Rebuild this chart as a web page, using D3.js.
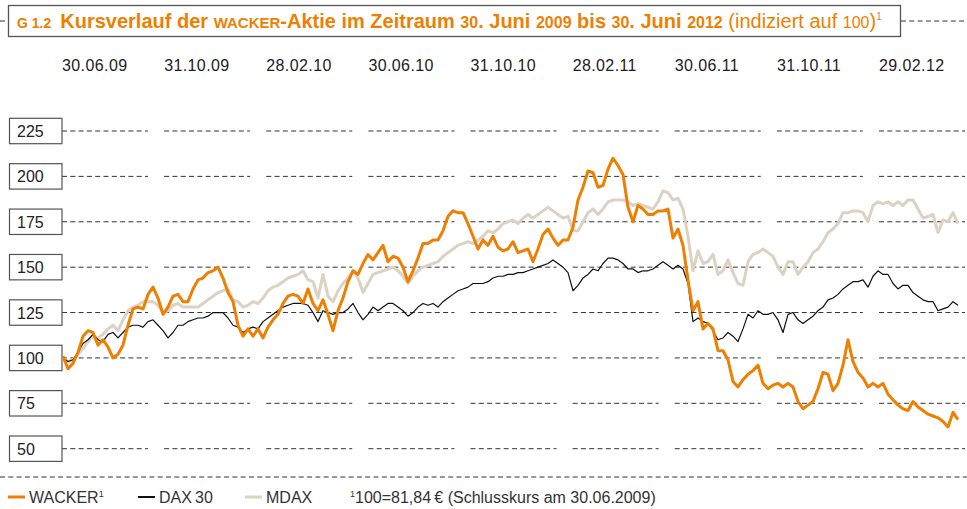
<!DOCTYPE html>
<html>
<head>
<meta charset="utf-8">
<script src="https://cdn.jsdelivr.net/npm/d3@7"></script>
<style>
  body { margin: 0; background: #fff; }
  svg { display: block; font-family: "Liberation Sans", Arial, sans-serif; }
  .grid { stroke: #333; stroke-width: 1; stroke-dasharray: 5 3.3; }
  .ybox { fill: #fff; stroke: #555; stroke-width: 1.2; }
  .ylab { font-size: 16px; fill: #222; }
  .xlab { font-size: 16px; fill: #222; letter-spacing: 0.4px; }
  .legend { font-size: 16px; fill: #333; }
</style>
</head>
<body>
<svg width="967" height="509"></svg>
<script>
// Tick labels at the top (4-month steps)
const dateLabels = ["30.06.09", "31.10.09", "28.02.10", "30.06.10", "31.10.10",
                    "28.02.11", "30.06.11", "31.10.11", "29.02.12"];
const yTicks = [50, 75, 100, 125, 150, 175, 200, 225];

// roughly weekly readings, 30.06.2009 - 30.06.2012, indexed to 100
const wacker = [
  101, 94, 97, 103, 112, 115, 114, 107, 110, 106,
  100, 102, 107, 118, 127, 128, 127, 135, 139, 133,
  124, 128, 134, 135, 131, 131, 138, 143, 144, 147,
  148, 150, 144, 136, 131, 118, 112, 116, 112, 116,
  111, 117, 121, 124, 130, 134, 135, 134, 130, 138,
  130, 126, 132, 124, 115, 126, 133, 142, 148, 146,
  152, 157, 154, 158, 162, 153, 156, 155, 150, 142,
  148, 155, 163, 163, 165, 165, 170, 178, 181, 180,
  180, 174, 167, 160, 165, 162, 167, 161, 159, 160,
  164, 158, 159, 160, 153, 160, 168, 171, 166, 162,
  165, 165, 172, 187, 194, 203, 202, 194, 195, 204,
  210, 206, 201, 183, 175, 184, 182, 179, 179, 181,
  181, 182, 166, 171, 162, 143, 126, 131, 116, 119,
  116, 104, 104, 99, 87, 84, 88, 91, 93, 96,
  86, 83, 85, 86, 84, 86, 84, 76, 72, 74,
  76, 83, 92, 91, 82, 86, 96, 110, 98, 92,
  89, 84, 86, 84, 86, 80, 77, 74, 72, 71,
  76, 73, 71, 69, 68, 67, 65, 62, 70, 66
];
const dax30 = [
  100, 98, 99, 103, 108, 110, 113, 110, 109, 113,
  114, 111, 114, 117, 118, 118, 117, 120, 121, 118,
  115, 111, 114, 118, 118, 120, 121, 122, 122, 123,
  125, 125, 125, 122, 118, 117, 114, 116, 117, 116,
  120, 122, 124, 126, 128, 129, 130, 130, 130, 129,
  125, 120, 126, 125, 124, 125, 125, 127, 130, 125,
  121, 124, 128, 126, 128, 130, 130, 128, 126, 123,
  125, 128, 130, 129, 130, 128, 131, 133, 135, 137,
  138, 139, 141, 141, 141, 142, 144, 145, 145, 146,
  146, 147, 147, 148, 149, 150, 151, 152, 154, 152,
  150, 147, 137, 140, 144, 146, 149, 148, 152, 155,
  155, 154, 152, 149, 149, 147, 148, 148, 149, 151,
  153, 151, 149, 151, 149, 141, 120, 122, 120, 119,
  115, 110, 111, 114, 112, 109, 116, 124, 122, 126,
  124, 124, 125, 121, 114, 124, 125, 121, 119, 121,
  123, 126, 128, 132, 133, 135, 138, 140, 142, 142,
  143, 139, 145, 148, 146, 146, 141, 138, 140, 140,
  136, 134, 132, 131, 131, 126, 127, 128, 131, 129
];
const mdax = [
  100, 98, 99, 102, 105, 109, 112, 111, 113, 116,
  118, 115, 121, 126, 128, 129, 131, 131, 131, 129,
  125, 126, 129, 130, 128, 128, 128, 128, 130, 132,
  134, 136, 137, 138, 132, 131, 128, 129, 131, 130,
  133, 137, 139, 140, 142, 144, 145, 146, 148, 143,
  142, 133, 146, 134, 131, 137, 141, 144, 148, 144,
  136, 141, 146, 147, 148, 149, 150, 148, 145, 141,
  145, 148, 150, 151, 152, 153, 156, 158, 160, 162,
  163, 164, 163, 165, 167, 170, 169, 171, 174, 175,
  176, 174, 177, 179, 177, 179, 181, 183, 181, 179,
  177, 178, 170, 170, 175, 180, 182, 179, 182, 186,
  187, 187, 187, 186, 184, 185, 184, 183, 182, 186,
  192, 191, 187, 188, 182, 167, 148, 159, 152, 153,
  157, 146, 148, 154, 147, 141, 140, 153, 157, 158,
  160, 158, 156, 150, 146, 153, 153, 146, 150, 153,
  158, 160, 164, 169, 171, 174, 180, 180, 181, 181,
  180, 175, 184, 186, 185, 186, 184, 186, 184, 187,
  187, 182, 177, 178, 179, 169, 176, 175, 180, 174
];
const seriesNames = ["WACKER", "DAX30", "MDAX"];
const colors = { WACKER: "#ee7f00", DAX30: "#111", MDAX: "#ddd1c3" };

const svg = d3.select("svg");
const orange = "#ee7f00";

// scales
const x = d3.scaleLinear().domain([0, wacker.length - 1]).range([63, 958]);
const y = d3.scaleLinear().domain([50, 225]).range([448.7, 131]);
const xCol = d3.scalePoint().domain(dateLabels).range([62, 879]);
const colW = 86;

// title box
svg.append("line").attr("x1", 0).attr("x2", 8).attr("y1", 21).attr("y2", 21).attr("class", "grid");
svg.append("line").attr("x1", 901).attr("x2", 967).attr("y1", 21).attr("y2", 21).attr("class", "grid");
svg.append("rect").attr("x", 8.5).attr("y", 5.5).attr("width", 892).attr("height", 31)
  .attr("fill", "#fff").attr("stroke", "#555").attr("stroke-width", 1.3);

const title = svg.append("text").attr("x", 17).attr("y", 28)
  .attr("fill", orange).attr("font-weight", "bold").attr("font-size", 20);
const parts = [
  ["G 1.2", 14, "bold", 0], ["Kursverlauf der ", 20, "bold", 9], ["WACKER", 15, "bold", 0],
  ["-Aktie im Zeitraum ", 20, "bold", 0], ["30", 16, "bold", 0], [". Juni ", 20, "bold", 0],
  ["2009", 16, "bold", 0], [" bis ", 20, "bold", 0], ["30", 16, "bold", 0], [". Juni ", 20, "bold", 0],
  ["2012", 16, "bold", 0], [" (indiziert auf ", 20, "normal", 0], ["100", 16, "normal", 0], [")", 20, "normal", 0]
];
parts.forEach(p => {
  title.append("tspan").text(p[0]).attr("font-size", p[1]).attr("font-weight", p[2]).attr("dx", p[3]);
});
title.append("tspan").text("1").attr("font-size", 10).attr("font-weight", "normal").attr("dy", -8);

// date labels at top
svg.append("g").selectAll("text").data(dateLabels).join("text")
  .attr("class", "xlab")
  .attr("x", d => xCol(d))
  .attr("y", 71)
  .text(d => d);

// dashed grid in column segments
const grid = svg.append("g");
yTicks.forEach(v => {
  grid.selectAll(null).data(dateLabels).join("line")
    .attr("class", "grid")
    .attr("x1", d => xCol(d))
    .attr("x2", d => xCol(d) + colW)
    .attr("y1", y(v)).attr("y2", y(v));
});

// boxed y labels
const yl = svg.append("g").selectAll("g").data(yTicks).join("g");
yl.append("rect").attr("class", "ybox")
  .attr("x", 9.5).attr("width", 52.5)
  .attr("y", d => y(d) - 12.7).attr("height", 25.4);
yl.append("text").attr("class", "ylab")
  .attr("x", 17).attr("y", d => y(d) + 6)
  .text(d => d);

// series lines
const line = d3.line().x((d, i) => x(i)).y(d => y(d));
svg.append("path").datum(mdax).attr("d", line)
  .attr("fill", "none").attr("stroke", colors.MDAX).attr("stroke-width", 3).attr("stroke-linejoin", "round");
svg.append("path").datum(dax30).attr("d", line)
  .attr("fill", "none").attr("stroke", colors.DAX30).attr("stroke-width", 1.2).attr("stroke-linejoin", "round");
svg.append("path").datum(wacker).attr("d", line)
  .attr("fill", "none").attr("stroke", colors.WACKER).attr("stroke-width", 3).attr("stroke-linejoin", "round");

// bottom rule + legend
svg.append("line").attr("x1", 0).attr("x2", 967).attr("y1", 477).attr("y2", 477).attr("class", "grid");

const legX = [8, 138, 245];
const lg = svg.append("g").selectAll("g").data(seriesNames).join("g")
  .attr("transform", (d, i) => `translate(${legX[i]},0)`);
lg.append("line").attr("x1", 0).attr("x2", 17).attr("y1", 497).attr("y2", 497)
  .attr("stroke", d => colors[d]).attr("stroke-width", d => d === "DAX30" ? 2 : 3);
const lt = lg.append("text").attr("class", "legend").attr("x", 21).attr("y", 502.5);
lt.append("tspan").text(d => d === "DAX30" ? "DAX\u200930" : d);
lt.filter(d => d === "WACKER").append("tspan").text("1").attr("font-size", 9).attr("dy", -6);

const fn = svg.append("text").attr("class", "legend").attr("x", 350).attr("y", 502.5);
fn.append("tspan").text("1").attr("font-size", 9).attr("dy", -6);
fn.append("tspan").text("100=81,84\u2009\u20ac (Schlusskurs am 30.06.2009)").attr("dy", 6);
</script>
</body>
</html>
